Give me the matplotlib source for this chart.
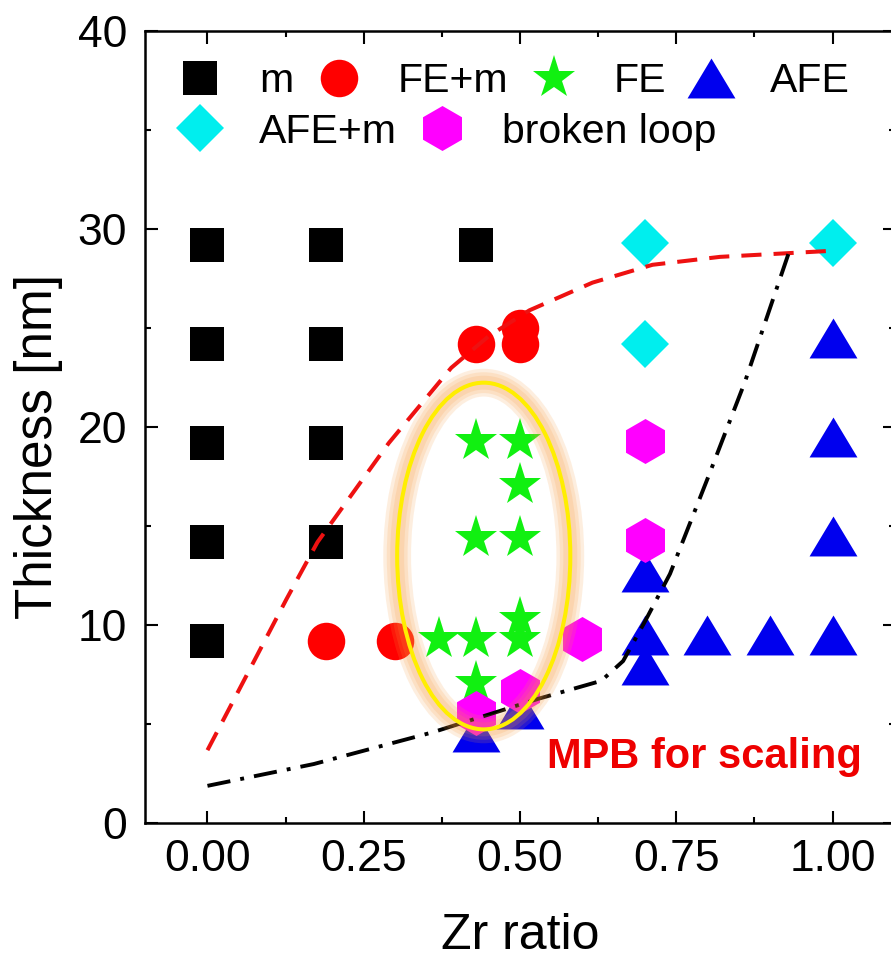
import matplotlib
matplotlib.use('Agg')
import matplotlib.pyplot as plt
from matplotlib.patches import Ellipse
from matplotlib.ticker import MultipleLocator

plt.rcParams['font.family'] = ['Liberation Sans', 'DejaVu Sans']

# phase data: Zr ratio vs film thickness (nm)
m_x = [0.0, 0.19, 0.43, 0.0, 0.19, 0.0, 0.19, 0.0, 0.19, 0.0]
m_y = [29.2, 29.2, 29.2, 24.2, 24.2, 19.2, 19.2, 14.2, 14.2, 9.2]

fem_x = [0.19, 0.30, 0.43, 0.50, 0.50]
fem_y = [9.2, 9.2, 24.2, 24.2, 25.0]

fe_x = [0.43, 0.50, 0.50, 0.43, 0.50, 0.37, 0.43, 0.50, 0.50, 0.43]
fe_y = [19.3, 19.3, 17.1, 14.4, 14.4, 9.3, 9.3, 9.3, 10.3, 7.1]

afe_x = [1.0, 1.0, 1.0, 1.0, 0.70, 0.70, 0.70, 0.80, 0.90, 0.43, 0.50]
afe_y = [24.5, 19.5, 14.5, 9.5, 12.7, 9.5, 8.0, 9.5, 9.5, 4.6, 5.8]

afem_x = [0.70, 0.70, 1.0]
afem_y = [29.3, 24.2, 29.3]

broken_x = [0.70, 0.70, 0.60, 0.43, 0.50]
broken_y = [19.3, 14.3, 9.3, 5.6, 6.7]

# guide lines
mpb_x = [0.0, 0.126, 0.176, 0.29, 0.39, 0.45, 0.515, 0.616, 0.712, 0.82, 0.995]
mpb_y = [3.7, 11.3, 14.2, 19.2, 23.0, 24.6, 25.9, 27.3, 28.2, 28.6, 28.9]

afe_bnd_x = [0.0, 0.17, 0.36, 0.53, 0.63, 0.665, 0.70, 0.74, 0.80, 0.86, 0.93]
afe_bnd_y = [1.9, 3.0, 4.6, 6.3, 7.2, 8.2, 10.2, 12.6, 17.4, 22.3, 28.8]

tri = [(-1.2, -1.0), (1.2, -1.0), (0.0, 1.0), (-1.2, -1.0)]

fig = plt.figure(figsize=(8.91, 9.6), dpi=100)
ax = fig.add_axes([0.1627, 0.1422, 0.8418, 0.8255])

h_m, = ax.plot(m_x, m_y, 's', color='black', ms=24.5, mew=0, label='m', zorder=3)
h_fem, = ax.plot(fem_x, fem_y, 'o', color='#ff0000', ms=27, mew=0, label='FE+m', zorder=3)
h_fe, = ax.plot(fe_x, fe_y, '*', color='#11f011', ms=32.5, mew=0, label='FE', zorder=3)
h_afe, = ax.plot(afe_x, afe_y, linestyle='none', marker=tri, color='#0000ee', ms=34.5, mew=0,
                 label='AFE', zorder=3)
h_afem, = ax.plot(afem_x, afem_y, 'D', color='#00eeee', ms=24.5, mew=0, label='AFE+m', zorder=3)
h_br, = ax.plot(broken_x, broken_y, 'h', color='#ff00ff', ms=32.4, mew=0, label='broken loop', zorder=3.5)

ax.plot(mpb_x, mpb_y, color='#ee1111', lw=2.9, dashes=(5, 3), zorder=4)
ax.plot(afe_bnd_x, afe_bnd_y, color='black', lw=2.8, dashes=(6, 2.6, 1, 2.6), zorder=4)

# highlighted FE window
for lw in [20, 15, 10]:
    ax.add_patch(Ellipse((0.442, 13.5), 0.277, 17.5, fill=False, lw=lw,
                         ec='#f79a3c', alpha=0.16, zorder=5))
ax.add_patch(Ellipse((0.442, 13.5), 0.277, 17.5, fill=False, lw=2.9,
                     ec='#ffee00', zorder=5.1))

ax.text(0.544, 2.8, 'MPB for scaling', color='#ee0000', fontsize=30,
        fontweight='bold', va='baseline', ha='left', zorder=6)

ax.set_xlim(-0.1, 1.1)
ax.set_ylim(0, 40)
ax.xaxis.set_minor_locator(MultipleLocator(0.125))
ax.yaxis.set_major_locator(MultipleLocator(10))
ax.yaxis.set_minor_locator(MultipleLocator(5))
ax.set_xticks([0.0, 0.25, 0.5, 0.75, 1.0])
ax.set_xticklabels(['0.00', '0.25', '0.50', '0.75', '1.00'])

ax.tick_params(which='both', direction='in', top=True, right=True, width=1.5, labelsize=32)
ax.tick_params(which='major', length=9)
ax.tick_params(which='minor', length=4.5)
ax.tick_params(axis='x', pad=11)
ax.tick_params(axis='y', pad=13)
for sp in ax.spines.values():
    sp.set_linewidth(1.8)

ax.set_xlabel('Zr ratio', fontsize=36)
ax.set_ylabel('Thickness [nm]', fontsize=37)
ax.xaxis.set_label_coords(0.5, -0.113)
ax.yaxis.set_label_coords(-0.109, 0.476)

leg_kw = dict(loc='center left', frameon=False, fontsize=29.5, borderpad=0, borderaxespad=0,
              handlelength=1.0, handletextpad=0.95, columnspacing=0.6, numpoints=1)
leg1 = ax.legend([h_m, h_fem, h_fe, h_afe], ['m', 'FE+m', 'FE', 'AFE'], ncol=4,
                 bbox_to_anchor=(0.046, 0.937), **leg_kw)
ax.add_artist(leg1)
ax.legend([h_afem, h_br], ['AFE+m', 'broken loop'], ncol=2,
          bbox_to_anchor=(0.046, 0.873), **leg_kw)

fig.savefig('out.png', dpi=100, facecolor='white')
